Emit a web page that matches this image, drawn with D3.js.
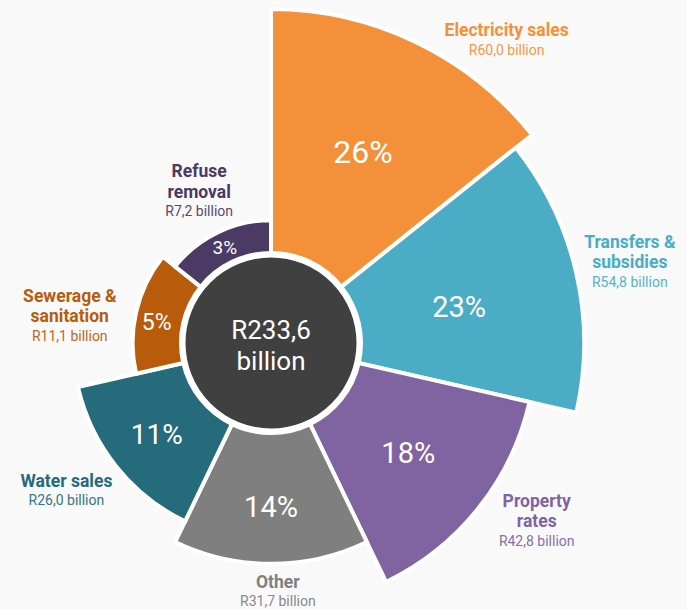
<!DOCTYPE html>
<html>
<head>
<meta charset="utf-8">
<script src="https://cdn.jsdelivr.net/npm/d3@7"></script>
<style>
  html, body { margin: 0; padding: 0; background: #f9f9f9; }
  svg { display: block; font-family: "Segoe UI", Roboto, "Open Sans", sans-serif; }
</style>
</head>
<body>
<svg id="chart" width="687" height="609"></svg>
<script>
// ---- data ----
const categories = ["Electricity sales", "Transfers & subsidies", "Property rates", "Other", "Water sales", "Sewerage & sanitation", "Refuse removal"];
const titleLines = [["Electricity sales"], ["Transfers &", "subsidies"], ["Property", "rates"], ["Other"], ["Water sales"], ["Sewerage &", "sanitation"], ["Refuse", "removal"]];
const values = [60.0, 54.8, 42.8, 31.7, 26.0, 11.1, 7.2]; // R billion
const colors = ["#f4903a", "#4bacc6", "#8064a2", "#7f7f7f", "#256b7c", "#b85b0b", "#4b3a64"];

// ---- layout (style only) ----
const W = 687, H = 609;
const cx = 271, cy = 343;
const innerR = 90, holeR = 88;
const pctFont = [32, 29, 29, 29, 28, 23, 19];
const pctNudge = [ // [angle offset deg, radial offset px]
  [0, 0], [2, -10], [0, -2], [0, 8], [0, 2], [-2.5, 2], [0, 0]
];
const labelNudge = [ // [angle offset deg, radial gap px]
  [11.8, 53], [-2.0, 58], [-6.9, 47], [-1.6, 24], [3.5, 52], [-1.3, 67], [2.3, 58]
];

const total = d3.sum(values);
const fmt = v => "R" + v.toFixed(1).replace(".", ",");

const svg = d3.select("#chart");
const g = svg.append("g").attr("transform", `translate(${cx},${cy})`);

const n = values.length;
const angle = d3.scaleBand().domain(d3.range(n)).range([0, 2 * Math.PI]).paddingInner(0).paddingOuter(0);
const radius = d3.scaleLinear().domain([0, 60]).range([94, 334]);
const rad = deg => deg * Math.PI / 180;

const arc = d3.arc()
  .innerRadius(innerR)
  .outerRadius((d, i) => radius(d))
  .startAngle((d, i) => angle(i))
  .endAngle((d, i) => angle(i) + angle.bandwidth());

g.selectAll("path.slice").data(values).join("path")
  .attr("class", "slice")
  .attr("d", (d, i) => arc(d, i))
  .attr("fill", (d, i) => colors[i])
  .attr("stroke", "#ffffff")
  .attr("stroke-width", 4)
  .attr("stroke-linejoin", "miter");

// center hole
g.append("circle").attr("r", holeR).attr("fill", "#404040").attr("stroke", "#ffffff").attr("stroke-width", 5);
g.append("text").attr("text-anchor", "middle").attr("y", -4).attr("fill", "#ffffff")
  .attr("font-size", 26).text(fmt(total));
g.append("text").attr("text-anchor", "middle").attr("y", 27).attr("fill", "#ffffff")
  .attr("font-size", 26).text("billion");

// percentage labels
g.selectAll("text.pct").data(values).join("text")
  .attr("class", "pct")
  .attr("text-anchor", "middle")
  .attr("dy", "0.35em")
  .attr("fill", "#ffffff")
  .attr("font-size", (d, i) => pctFont[i])
  .attr("transform", (d, i) => {
    const a = angle(i) + angle.bandwidth() / 2 + rad(pctNudge[i][0]);
    const r = (innerR + radius(d)) / 2 + pctNudge[i][1];
    return `translate(${r * Math.sin(a)},${-r * Math.cos(a)})`;
  })
  .text(d => Math.round(d / total * 100) + "%");

// category labels
values.forEach((v, i) => {
  const a = angle(i) + angle.bandwidth() / 2 + rad(labelNudge[i][0]);
  const r = radius(v) + labelNudge[i][1];
  const x = r * Math.sin(a), y = -r * Math.cos(a);
  titleLines[i].forEach((line, k) => {
    g.append("text").attr("text-anchor", "middle").attr("fill", colors[i])
      .attr("x", x).attr("y", y + k * 20.5)
      .attr("font-weight", "bold").attr("font-size", 17.5).text(line);
  });
  g.append("text").attr("text-anchor", "middle").attr("fill", colors[i])
    .attr("x", x).attr("y", y + (titleLines[i].length - 1) * 20.5 + 18.5)
    .attr("font-size", 14).attr("opacity", 0.92).text(fmt(v) + " billion");
});
</script>
</body>
</html>
